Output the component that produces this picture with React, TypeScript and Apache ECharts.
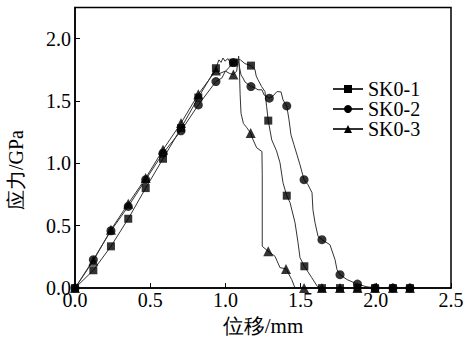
import { useEffect, useRef } from "react";
import * as echarts from "echarts";

const seriesNames = ["SK0-1", "SK0-2", "SK0-3"];
const xAxisTitle = "位移/mm";
const yAxisTitle = "应力/GPa";

// SK0-1 (squares)
const sk01Curve: number[][] = [
  [0, 0], [0.122, 0.143], [0.239, 0.335], [0.354, 0.556], [0.47, 0.802], [0.585, 1.037],
  [0.705, 1.283], [0.82, 1.528], [0.937, 1.763], [0.957, 1.83], [0.971, 1.81], [0.984, 1.845],
  [0.997, 1.82], [1.017, 1.84], [1.031, 1.81], [1.053, 1.808], [1.075, 1.835], [1.1, 1.83],
  [1.13, 1.8], [1.17, 1.784], [1.197, 1.75], [1.205, 1.7], [1.217, 1.67], [1.241, 1.616],
  [1.263, 1.576], [1.274, 1.456], [1.285, 1.343], [1.308, 1.189], [1.34, 1.1], [1.363, 1.005],
  [1.383, 0.845], [1.408, 0.741], [1.43, 0.685], [1.463, 0.524], [1.483, 0.364], [1.496, 0.244],
  [1.525, 0.175], [1.574, 0.084], [1.611, 0.014], [1.642, 0], [2.3, 0],
];
const sk01Marks: number[][] = [
  [0, 0], [0.122, 0.143], [0.239, 0.335], [0.354, 0.556], [0.47, 0.802], [0.585, 1.037],
  [0.705, 1.283], [0.82, 1.528], [0.937, 1.763], [1.053, 1.808], [1.17, 1.784], [1.285, 1.343],
  [1.408, 0.741], [1.525, 0.175], [1.642, 0], [1.762, 0], [1.878, 0], [1.995, 0], [2.114, 0], [2.227, 0],
];

// SK0-2 (circles)
const sk02Curve: number[][] = [
  [0, 0], [0.122, 0.228], [0.239, 0.46], [0.354, 0.655], [0.47, 0.869], [0.585, 1.082],
  [0.705, 1.261], [0.82, 1.469], [0.937, 1.656], [0.977, 1.685], [0.997, 1.733], [1.053, 1.808],
  [1.084, 1.829], [1.104, 1.709], [1.117, 1.685], [1.13, 1.653], [1.17, 1.616], [1.197, 1.605],
  [1.217, 1.59], [1.243, 1.59], [1.257, 1.549], [1.292, 1.523], [1.316, 1.54], [1.343, 1.576],
  [1.37, 1.573], [1.383, 1.509], [1.408, 1.461], [1.423, 1.349], [1.436, 1.229], [1.456, 1.149],
  [1.476, 1.069], [1.496, 0.989], [1.523, 0.869], [1.549, 0.829], [1.576, 0.765], [1.582, 0.628],
  [1.596, 0.524], [1.616, 0.415], [1.642, 0.388], [1.695, 0.348], [1.729, 0.228], [1.742, 0.148],
  [1.762, 0.108], [1.809, 0.068], [1.878, 0.032], [1.935, 0.012], [1.995, 0], [2.35, 0],
];
const sk02Marks: number[][] = [
  [0, 0], [0.122, 0.228], [0.239, 0.46], [0.354, 0.655], [0.47, 0.869], [0.585, 1.082],
  [0.705, 1.261], [0.82, 1.469], [0.937, 1.656], [1.053, 1.808], [1.17, 1.616], [1.292, 1.523],
  [1.408, 1.461], [1.523, 0.869], [1.642, 0.388], [1.762, 0.108], [1.878, 0.032], [1.995, 0],
  [2.114, 0], [2.227, 0],
];

// SK0-3 (triangles)
const sk03Curve: number[][] = [
  [0, 0], [0.122, 0.22], [0.239, 0.468], [0.354, 0.677], [0.47, 0.882], [0.585, 1.109],
  [0.705, 1.323], [0.82, 1.555], [0.937, 1.745], [0.96, 1.72], [1.0, 1.74], [1.03, 1.72],
  [1.053, 1.713], [1.075, 1.74], [1.088, 1.86], [1.092, 1.8], [1.098, 1.55], [1.104, 1.4],
  [1.12, 1.32], [1.14, 1.29], [1.168, 1.243], [1.184, 1.189], [1.208, 1.125], [1.243, 1.095],
  [1.245, 0.909], [1.245, 0.335], [1.285, 0.295], [1.33, 0.255], [1.363, 0.164], [1.403, 0.154],
  [1.441, 0.068], [1.463, 0], [2.35, 0],
];
const sk03Marks: number[][] = [
  [0, 0], [0.122, 0.22], [0.239, 0.468], [0.354, 0.677], [0.47, 0.882], [0.585, 1.109],
  [0.705, 1.323], [0.82, 1.555], [0.937, 1.745], [1.053, 1.713], [1.168, 1.243], [1.285, 0.295],
  [1.403, 0.154], [1.523, 0], [1.642, 0], [1.762, 0], [1.878, 0], [1.995, 0], [2.114, 0], [2.227, 0],
];

const curves = [sk01Curve, sk02Curve, sk03Curve];
const marks = [sk01Marks, sk02Marks, sk03Marks];
const symbols = ["rect", "circle", "triangle"];
const symbolSizes = [8, 9, 10];

const FONT = "serif";
const CSS = `#stress-chart svg text { font-family: "Liberation Serif", serif !important; }`;

export default function App() {
  const ref = useRef<HTMLDivElement>(null);
  useEffect(() => {
    if (!ref.current) return;
    const chart = echarts.init(ref.current, undefined, { renderer: "svg" });
    const lineSeries = seriesNames.map((name, i) => ({
      name,
      type: "line",
      data: curves[i],
      symbol: symbols[i],
      symbolSize: symbolSizes[i],
      showSymbol: false,
      lineStyle: { color: "#333", width: 1 },
      itemStyle: { color: "#000" },
      z: 2,
    }));
    const markSeries = seriesNames.map((name, i) => ({
      name: name + " marks",
      type: "scatter",
      data: marks[i],
      symbol: symbols[i],
      symbolSize: symbolSizes[i],
      itemStyle: { color: "#000" },
      z: 3,
    }));
    chart.setOption({
      animation: false,
      grid: {
        left: 75, top: 7.5, right: 17, bottom: 52.5,
        show: true, borderColor: "#000", borderWidth: 1.5, backgroundColor: "transparent",
      },
      legend: {
        data: seriesNames,
        orient: "vertical",
        left: 327,
        top: 74,
        itemWidth: 30,
        itemHeight: 10,
        itemGap: 0,
        textStyle: { fontSize: 20, fontFamily: FONT, color: "#000", lineHeight: 18 },
      },
      xAxis: {
        type: "value",
        min: 0, max: 2.5, interval: 0.5,
        name: xAxisTitle,
        nameLocation: "middle",
        nameGap: 22,
        nameTextStyle: { fontSize: 21, fontFamily: FONT, color: "#000" },
        axisLine: { lineStyle: { color: "#000", width: 1.5 } },
        axisTick: { inside: true, length: 5, lineStyle: { color: "#000" } },
        axisLabel: { fontSize: 20, fontFamily: FONT, color: "#000", margin: 2, formatter: (v: number) => v.toFixed(1) },
        splitLine: { show: false },
        z: 5,
      },
      yAxis: {
        type: "value",
        min: 0, max: 2.25, interval: 0.5,
        axisLine: { show: true, lineStyle: { color: "#000", width: 1.5 } },
        axisTick: { inside: true, length: 5, lineStyle: { color: "#000" } },
        axisLabel: { fontSize: 20, fontFamily: FONT, color: "#000", margin: 4, showMaxLabel: false, formatter: (v: number) => v.toFixed(1) },
        splitLine: { show: false },
      },
      graphic: [
        {
          type: "text",
          x: 16,
          y: 170,
          rotation: Math.PI / 2,
          style: { text: yAxisTitle, fontSize: 20, fontFamily: FONT, fill: "#000", align: "center", verticalAlign: "middle" },
        },
      ],
      series: [...lineSeries, ...markSeries],
    });
    return () => chart.dispose();
  }, []);
  return (
    <>
      <style>{CSS}</style>
      <div id="stress-chart" ref={ref} style={{ position: "absolute", left: 0, top: 0, width: 468, height: 341 }} />
    </>
  );
}
